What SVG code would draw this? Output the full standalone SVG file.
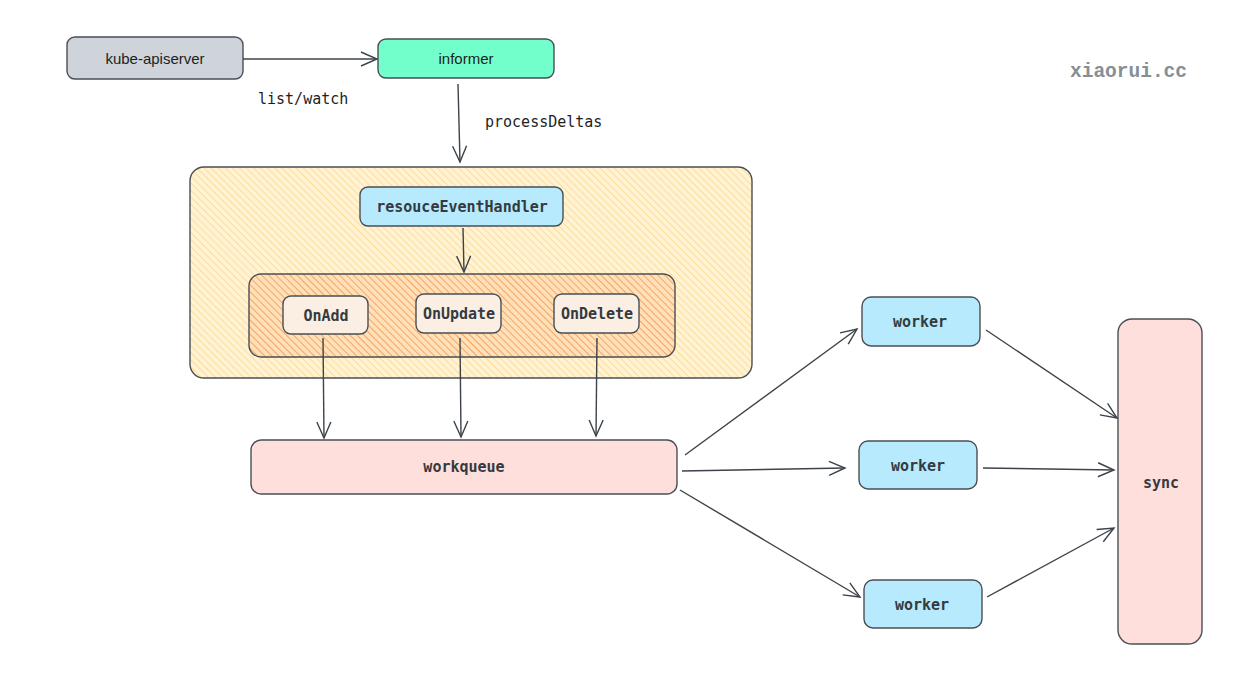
<svg xmlns="http://www.w3.org/2000/svg" width="1255" height="685" viewBox="0 0 1255 685">
<defs>
<pattern id="hYellow" patternUnits="userSpaceOnUse" width="5" height="5" patternTransform="rotate(-45)">
<rect width="5" height="5" fill="#fff3d4"/>
<line x1="0" y1="0" x2="0" y2="5" stroke="#ffd68a" stroke-width="1.6"/>
</pattern>
<pattern id="hOrange" patternUnits="userSpaceOnUse" width="5" height="5" patternTransform="rotate(-45)">
<rect width="5" height="5" fill="#ffe0b8"/>
<line x1="0" y1="0" x2="0" y2="5" stroke="#f29c55" stroke-width="1.7"/>
</pattern>
<marker id="arr" viewBox="0 0 20 20" refX="18" refY="10" markerWidth="20" markerHeight="20" markerUnits="userSpaceOnUse" orient="auto">
<path d="M2,3 L18,10 L2,17" fill="none" stroke="#3d434a" stroke-width="1.4"/>
</marker>
</defs>
<style>
.box{stroke:#4a4f55;stroke-width:1.4}
.mono{font-family:"DejaVu Sans Mono","Liberation Mono",monospace;font-size:15px;fill:#343a40;text-anchor:middle;font-weight:bold}
.sans{font-family:"Liberation Sans",Arial,sans-serif;font-size:15px;fill:#1e1e1e;text-anchor:middle}
.lbl{font-family:"DejaVu Sans Mono","Liberation Mono",monospace;font-size:15px;fill:#1e1e1e}
.conn line{stroke:#3d434a;stroke-width:1.4;marker-end:url(#arr)}
</style>
<rect width="1255" height="685" fill="#ffffff"/>

<g id="container-handler">
<rect class="box" x="190" y="167" width="562" height="211" rx="14" fill="url(#hYellow)"/>
</g>
<g id="container-callbacks">
<rect class="box" x="249" y="274" width="426" height="83" rx="12" fill="url(#hOrange)"/>
</g>

<g id="kube-apiserver">
<rect class="box" x="67" y="37" width="176" height="42" rx="8" fill="#ced4da"/>
<text class="sans" x="155" y="64">kube-apiserver</text>
</g>
<g id="informer">
<rect class="box" x="378" y="39" width="176" height="39" rx="8" fill="#73ffcb"/>
<text class="sans" x="466" y="64">informer</text>
</g>
<g id="resouceEventHandler">
<rect class="box" x="360" y="187" width="203" height="39" rx="8" fill="#b6eafc"/>
<text class="mono" x="462" y="212">resouceEventHandler</text>
</g>
<g id="OnAdd">
<rect class="box" x="283" y="296" width="85" height="38" rx="8" fill="#fbeee2"/>
<text class="mono" x="326" y="321">OnAdd</text>
</g>
<g id="OnUpdate">
<rect class="box" x="416" y="294" width="85" height="39" rx="8" fill="#fbeee2"/>
<text class="mono" x="459" y="319">OnUpdate</text>
</g>
<g id="OnDelete">
<rect class="box" x="554" y="294" width="85" height="39" rx="8" fill="#fbeee2"/>
<text class="mono" x="597" y="319">OnDelete</text>
</g>
<g id="workqueue">
<rect class="box" x="251" y="440" width="426" height="54" rx="10" fill="#ffdfdc"/>
<text class="mono" x="464" y="472">workqueue</text>
</g>
<g id="worker1">
<rect class="box" x="862" y="297" width="118" height="49" rx="9" fill="#b6eafc"/>
<text class="mono" x="920" y="327">worker</text>
</g>
<g id="worker2">
<rect class="box" x="859" y="441" width="118" height="48" rx="9" fill="#b6eafc"/>
<text class="mono" x="918" y="471">worker</text>
</g>
<g id="worker3">
<rect class="box" x="864" y="580" width="118" height="48" rx="9" fill="#b6eafc"/>
<text class="mono" x="922" y="610">worker</text>
</g>
<g id="sync">
<rect class="box" x="1118" y="319" width="84" height="325" rx="14" fill="#ffdfdc"/>
<text class="mono" x="1161" y="488">sync</text>
</g>

<g class="conn" id="connectors">
<line x1="243" y1="59" x2="377" y2="59"/>
<line x1="458" y1="84" x2="460" y2="162"/>
<line x1="463" y1="228" x2="464" y2="272"/>
<line x1="323" y1="338" x2="324" y2="438"/>
<line x1="460" y1="338" x2="461" y2="437"/>
<line x1="597" y1="338" x2="596" y2="436"/>
<line x1="685" y1="455" x2="857" y2="329"/>
<line x1="682" y1="471" x2="845" y2="468"/>
<line x1="680" y1="490" x2="860" y2="597"/>
<line x1="986" y1="330" x2="1117" y2="418"/>
<line x1="983" y1="468" x2="1114" y2="470"/>
<line x1="987" y1="597" x2="1114" y2="528"/>
</g>

<text class="lbl" x="258" y="104">list/watch</text>
<text class="lbl" x="485" y="127">processDeltas</text>
<text x="1070" y="77" style="font-family:'Liberation Mono','DejaVu Sans Mono',monospace;font-size:19.5px;fill:#868e96;font-weight:bold">xiaorui.cc</text>
</svg>
